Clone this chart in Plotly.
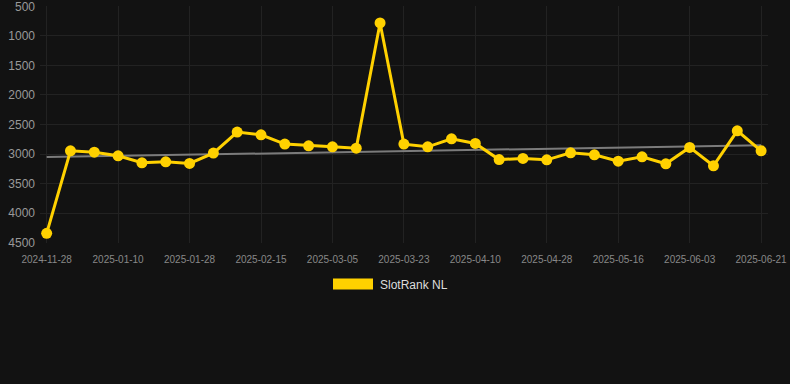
import plotly.graph_objects as go

dates = [
    "2024-11-28", "2024-12-29", "2025-01-04", "2025-01-10", "2025-01-16", "2025-01-22",
    "2025-01-28", "2025-02-03", "2025-02-09", "2025-02-15", "2025-02-21", "2025-02-27",
    "2025-03-05", "2025-03-11", "2025-03-17", "2025-03-23", "2025-03-29", "2025-04-04",
    "2025-04-10", "2025-04-16", "2025-04-22", "2025-04-28", "2025-05-04", "2025-05-10",
    "2025-05-16", "2025-05-22", "2025-05-28", "2025-06-03", "2025-06-09", "2025-06-15",
    "2025-06-21",
]
rank = [
    4341, 2945, 2968, 3030, 3148, 3131, 3158, 2984, 2629, 2675, 2832, 2861,
    2878, 2900, 782, 2832, 2878, 2743, 2820, 3094, 3074, 3098, 2979, 3013,
    3120, 3047, 3165, 2888, 3199, 2607, 2945,
]
trend_x = [dates[0], dates[-1]]
trend_y = [3052, 2849]
y_ticks = [500, 1000, 1500, 2000, 2500, 3000, 3500, 4000, 4500]
x_ticks = dates[::3]
series_name = "SlotRank NL"

BG = "#121212"
GOLD = "#FFD100"

fig = go.Figure()
fig.add_trace(go.Scatter(
    x=trend_x, y=trend_y, mode="lines",
    line=dict(color="rgba(130,130,130,0.95)", width=2),
    showlegend=False, hoverinfo="skip",
))
fig.add_trace(go.Scatter(
    x=dates, y=rank, mode="lines+markers", name=series_name,
    line=dict(color=GOLD, width=3),
    marker=dict(color=GOLD, size=11),
    cliponaxis=False, showlegend=False,
))

L, R, T, B = 40, 22, 5.7, 141.1
W, H = 790, 384
pw = W - L - R
ph = H - T - B

def px(x):
    return (x - L) / pw

def py(y):
    return (H - B - y) / ph

fig.add_shape(type="rect", xref="paper", yref="paper",
              x0=px(333), x1=px(373), y0=py(289.5), y1=py(278.5),
              fillcolor=GOLD, line=dict(width=0))
fig.add_annotation(xref="paper", yref="paper", x=px(378), y=py(284.5),
                   text=series_name, showarrow=False, xanchor="left", yanchor="middle",
                   font=dict(family="Arial, Liberation Sans", size=12, color="#dddddd"))

fig.update_layout(
    width=W, height=H,
    margin=dict(l=L, r=R, t=T, b=B, pad=0),
    paper_bgcolor=BG, plot_bgcolor=BG,
    font=dict(family="Arial, Liberation Sans", color="#888888"),
    showlegend=False,
)
fig.update_xaxes(
    type="category", categoryorder="array", categoryarray=dates,
    range=[-0.28, 30.29],
    tickmode="array", tickvals=x_ticks, ticktext=x_ticks,
    tickfont=dict(size=10, color="#888888"),
    ticklabelstandoff=9, ticklabeloverflow="allow",
    showgrid=True, gridcolor="#222222", gridwidth=1,
    zeroline=False, showline=False, automargin=False, ticks="",
)
fig.update_yaxes(
    range=[4505, 495], tickmode="array", tickvals=y_ticks,
    tickfont=dict(size=12, color="#999999"),
    ticklabeloverflow="allow", ticklabelstandoff=4,
    showgrid=True, gridcolor="#222222", gridwidth=1,
    zeroline=False, showline=False, automargin=False, ticks="",
)

fig.write_html("out.html")
